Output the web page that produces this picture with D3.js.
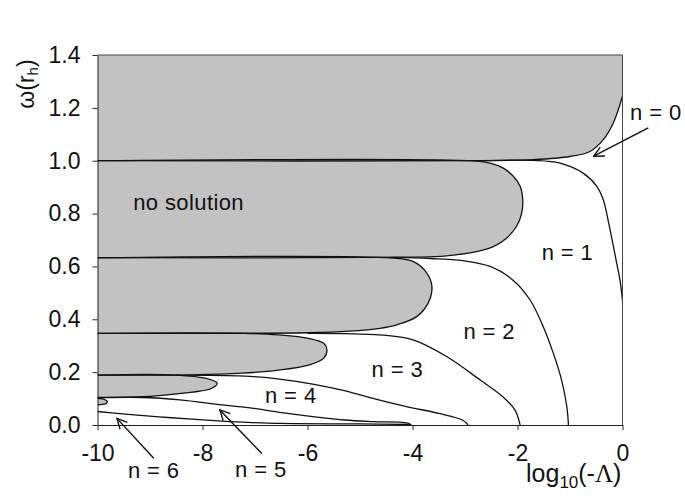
<!DOCTYPE html>
<html>
<head>
<meta charset="utf-8">
<script src="https://cdn.jsdelivr.net/npm/d3@7"></script>
<style>
body { margin: 0; background: #fff; }
text { font-family: Arial, 'Liberation Sans', sans-serif; fill: #111; }
</style>
</head>
<body>
<div id="chart"></div>
<script>
var width = 685;
var height = 499;

// axis ticks
var xTicks = [-10, -8, -6, -4, -2, 0];
var yTicks = [0, 0.2, 0.4, 0.6, 0.8, 1.0, 1.2, 1.4];

// "no solution" regions (log10(-L), omega)
var topCurve = [[0, 1.244], [-0.175, 1.143], [-0.366, 1.08], [-0.62, 1.035], [-1.0, 1.016], [-1.7, 1.004], [-2.66, 1.0], [-10, 1.0]];
var bulb2 = [[-10, 1.0], [-2.9, 1.0], [-2.52, 0.991], [-2.27, 0.972], [-2.08, 0.941], [-1.95, 0.903], [-1.9, 0.852], [-1.92, 0.802], [-2.02, 0.751], [-2.21, 0.707], [-2.46, 0.675], [-2.78, 0.656], [-3.35, 0.64], [-3.99, 0.635], [-10, 0.633]];
var bulb3 = [[-10, 0.632], [-4.4, 0.632], [-3.99, 0.619], [-3.73, 0.576], [-3.63, 0.524], [-3.7, 0.462], [-3.92, 0.41], [-4.3, 0.379], [-4.62, 0.366], [-5.2, 0.355], [-6.0, 0.349], [-10, 0.347]];
var bulb4 = [[-10, 0.347], [-7.2, 0.347], [-6.55, 0.341], [-5.98, 0.328], [-5.69, 0.309], [-5.63, 0.284], [-5.69, 0.253], [-5.98, 0.227], [-6.55, 0.208], [-7.25, 0.196], [-8.2, 0.19], [-10, 0.189]];
var bulb5 = [[-10, 0.189], [-8.5, 0.189], [-7.95, 0.177], [-7.72, 0.158], [-7.82, 0.139], [-8.2, 0.124], [-8.83, 0.111], [-9.15, 0.107], [-10, 0.104]];
var bulb6 = [[-10, 0.101], [-9.9, 0.099], [-9.82, 0.091], [-9.82, 0.084], [-9.9, 0.078], [-10, 0.076]];

// boundaries between the n regions
var n01 = [[-2.66, 1.0], [-1.7, 1.001], [-1.19, 0.991], [-0.75, 0.953], [-0.49, 0.903], [-0.366, 0.852], [-0.238, 0.739], [-0.11, 0.612], [-0.048, 0.549], [0, 0.47]];
var n12 = [[-4.4, 0.634], [-3.66, 0.63], [-3.04, 0.622], [-2.52, 0.6], [-2.09, 0.549], [-1.76, 0.473], [-1.51, 0.372], [-1.32, 0.273], [-1.16, 0.17], [-1.06, 0.069], [-1.03, 0]];
var n23 = [[-6.0, 0.347], [-4.62, 0.341], [-3.99, 0.322], [-3.35, 0.259], [-2.71, 0.17], [-2.28, 0.107], [-2.05, 0.057], [-1.95, 0]];
var n34 = [[-8.5, 0.189], [-7.2, 0.185], [-6.5, 0.173], [-5.9, 0.155], [-5.3, 0.13], [-4.7, 0.098], [-4.1, 0.069], [-3.5, 0.044], [-3.05, 0.019], [-2.94, 0]];
var n45 = [[-10, 0.103], [-9.15, 0.104], [-8.43, 0.095], [-7.63, 0.076], [-7.13, 0.066], [-6.49, 0.047], [-5.86, 0.031], [-5.29, 0.019], [-4.75, 0.013], [-4.11, 0.008], [-4.02, 0]];
var n56 = [[-10, 0.051], [-9.47, 0.041], [-8.83, 0.031], [-8.2, 0.022], [-7.63, 0.015], [-7.13, 0.01], [-6.5, 0.006], [-5.0, 0.004], [-4.05, 0.002]];

var labels = [
    {text: 'n = 0', x: 0.143, y: 1.155},
    {text: 'no solution', x: -9.32, y: 0.814},
    {text: 'n = 1', x: -1.54, y: 0.625},
    {text: 'n = 2', x: -3.03, y: 0.325},
    {text: 'n = 3', x: -4.78, y: 0.183},
    {text: 'n = 4', x: -6.81, y: 0.084},
    {text: 'n = 5', x: -7.38, y: -0.198},
    {text: 'n = 6', x: -9.42, y: -0.202}
];

var arrows = [
    {from: [0.49, 1.124], to: [-0.55, 1.017]},
    {from: [-6.87, -0.108], to: [-7.67, 0.057]},
    {from: [-8.93, -0.126], to: [-9.63, 0.025]}
];

var svg = d3
    .select('#chart')
    .append('svg')
    .attr('width', width)
    .attr('height', height)
    .style('background', 'white');

var xScale = d3.scaleLinear().domain([-10, 0]).range([97.5, 622.5]);
var yScale = d3.scaleLinear().domain([0, 1.4]).range([425, 55]);

var line = d3
    .line()
    .x(d => xScale(d[0]))
    .y(d => yScale(d[1]))
    .curve(d3.curveCatmullRom.alpha(0.5));

svg.append('clipPath')
    .attr('id', 'plotClip')
    .append('rect')
    .attr('x', xScale(-10))
    .attr('y', yScale(1.4))
    .attr('width', xScale(0) - xScale(-10))
    .attr('height', yScale(0) - yScale(1.4));

var plot = svg.append('g').attr('clip-path', 'url(#plotClip)');

// gray fills
var region1 = [[-10, 1.4], [0, 1.4], [0, 1.4]].concat(topCurve);
var regions = [region1, bulb2, bulb3, bulb4, bulb5, bulb6];

plot.selectAll('path.fill')
    .data(regions)
    .enter()
    .append('path')
    .attr('class', 'fill')
    .attr('d', d => line(d) + 'Z')
    .attr('fill', '#c2c2c2')
    .attr('stroke', 'none');

// outlines and boundaries
var outlines = [topCurve, bulb2, bulb3, bulb4, bulb5, bulb6, n01, n12, n23, n34, n45, n56];

plot.selectAll('path.edge')
    .data(outlines)
    .enter()
    .append('path')
    .attr('class', 'edge')
    .attr('d', d => line(d))
    .attr('fill', 'none')
    .attr('stroke', '#111')
    .attr('stroke-width', 1.3);

// frame (top and right)
svg.append('path')
    .attr('d', `M${xScale(-10)},${yScale(1.4)}H${xScale(0)}V${yScale(0)}`)
    .attr('fill', 'none')
    .attr('stroke', '#444')
    .attr('stroke-width', 1);

var xAxis = d3.axisBottom(xScale)
    .tickValues(xTicks)
    .tickFormat(d => String(d))
    .tickSize(5)
    .tickSizeOuter(0)
    .tickPadding(15);

var yAxis = d3.axisLeft(yScale)
    .tickValues(yTicks)
    .tickFormat(d3.format('.1f'))
    .tickSize(5)
    .tickSizeOuter(0)
    .tickPadding(12);

var gx = svg.append('g')
    .attr('transform', `translate(0,${yScale(0)})`)
    .call(xAxis);

var gy = svg.append('g')
    .attr('transform', `translate(${xScale(-10)},0)`)
    .call(yAxis);

[gx, gy].forEach(g => {
    g.attr('font-family', null).attr('font-size', null);
    g.selectAll('text').style('font-size', '23px').attr('fill', '#111');
    g.selectAll('line').attr('stroke', '#222');
    g.select('.domain').attr('stroke', '#222');
});

// annotations
svg.selectAll('text.lab')
    .data(labels)
    .enter()
    .append('text')
    .attr('class', 'lab')
    .attr('x', d => xScale(d.x))
    .attr('y', d => yScale(d.y))
    .style('font-size', '22px')
    .style('letter-spacing', '0.4px')
    .text(d => d.text);

svg.append('defs')
    .append('marker')
    .attr('id', 'head')
    .attr('viewBox', '0 0 12 12')
    .attr('refX', 11)
    .attr('refY', 6)
    .attr('markerWidth', 12)
    .attr('markerHeight', 12)
    .attr('markerUnits', 'userSpaceOnUse')
    .attr('orient', 'auto')
    .append('path')
    .attr('d', 'M1,1L11,6L1,11')
    .attr('fill', 'none')
    .attr('stroke', '#111')
    .attr('stroke-width', 1.4);

svg.selectAll('line.arrow')
    .data(arrows)
    .enter()
    .append('line')
    .attr('class', 'arrow')
    .attr('x1', d => xScale(d.from[0]))
    .attr('y1', d => yScale(d.from[1]))
    .attr('x2', d => xScale(d.to[0]))
    .attr('y2', d => yScale(d.to[1]))
    .attr('stroke', '#111')
    .attr('stroke-width', 1.4)
    .attr('marker-end', 'url(#head)');

// axis titles
var xTitle = svg.append('text')
    .attr('x', 526)
    .attr('y', 482)
    .style('font-size', '25px');
xTitle.append('tspan').text('log');
xTitle.append('tspan').attr('dy', 6).style('font-size', '17px').text('10');
xTitle.append('tspan').attr('dy', -6).text('(-');
xTitle.append('tspan').style('font-family', "'Liberation Serif', 'Times New Roman', serif").text('Λ');
xTitle.append('tspan').text(')');

var yTitle = svg.append('text')
    .attr('transform', 'translate(34,84)rotate(-90)')
    .attr('text-anchor', 'middle')
    .style('font-size', '23px');
yTitle.append('tspan').text('ω(r');
yTitle.append('tspan').attr('dy', 4).style('font-size', '15px').text('h');
yTitle.append('tspan').attr('dy', -4).text(')');
</script>
</body>
</html>
